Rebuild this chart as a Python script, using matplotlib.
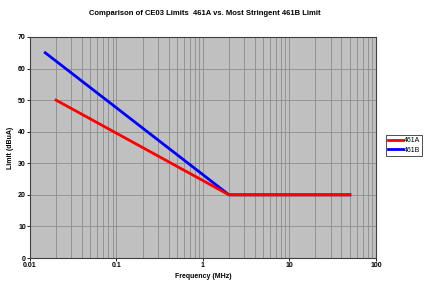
import matplotlib.pyplot as plt
import numpy as np

# CE03 limits, frequency in MHz vs limit in dBuA
freq_a = [0.02, 2.0, 50.0]
limit_a = [50, 20, 20]
freq_b = [0.015, 2.0, 50.0]
limit_b = [65, 20, 20]

x_ticks = [0.01, 0.1, 1, 10, 100]
x_labels = ['0.01', '0.1', '1', '10', '100']
y_ticks = [0, 10, 20, 30, 40, 50, 60, 70]


def main():
    plt.rcParams['font.family'] = ['Liberation Sans', 'DejaVu Sans']
    fig = plt.figure(figsize=(4.26, 2.91), dpi=100)
    ax = fig.add_axes([0.0704, 0.1134, 0.812, 0.7596])
    ax.set_facecolor('#c0c0c0')

    ax.plot(freq_b, limit_b, color='#0000ff', linewidth=2, label='461B', zorder=3)
    ax.plot(freq_a, limit_a, color='#ff0000', linewidth=2, label='461A', zorder=3)

    ax.set_xscale('log')
    ax.set_xlim(0.01, 100)
    ax.set_ylim(0, 70)
    ax.set_xticks(x_ticks)
    ax.set_xticklabels(x_labels)
    ax.set_yticks(y_ticks)
    ax.tick_params(labelsize=5, length=2, width=0.6, pad=1)
    for lab in ax.get_xticklabels() + ax.get_yticklabels():
        lab.set_fontweight('bold')

    ax.grid(True, which='major', color='#8c8c8c', linewidth=0.6)
    ax.grid(True, which='minor', axis='x', color='#8c8c8c', linewidth=0.6)
    ax.tick_params(which='minor', length=0)
    for s in ax.spines.values():
        s.set_color('#404040')
        s.set_linewidth(0.8)

    ax.set_xlabel('Frequency (MHz)', fontsize=5, fontweight='bold', labelpad=3)
    ax.set_ylabel('Limit (dBuA)', fontsize=5, fontweight='bold', labelpad=3)
    fig.suptitle('Comparison of CE03 Limits  461A vs. Most Stringent 461B Limit',
                 fontsize=5.5, fontweight='bold', x=0.48, y=0.965)

    handles, labels = ax.get_legend_handles_labels()
    leg = fig.legend(handles[::-1], labels[::-1], loc='center left',
                     bbox_to_anchor=(0.905, 0.5), fontsize=5, frameon=True,
                     fancybox=False, edgecolor='black', handlelength=2.2,
                     handletextpad=0.1, borderpad=0.3, labelspacing=0.4,
                     borderaxespad=0)
    leg.get_frame().set_linewidth(0.6)

    fig.savefig('out.png', dpi=100)


if __name__ == "__main__":
    main()
